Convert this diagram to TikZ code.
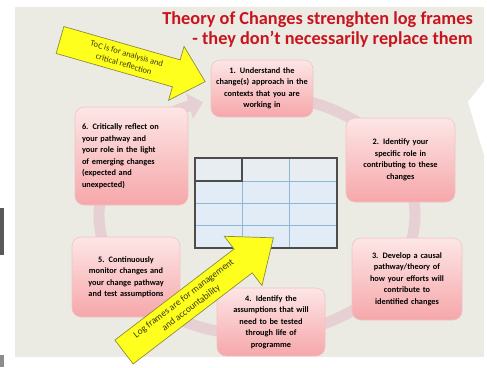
\documentclass[tikz,border=0pt]{standalone}
\usepackage{fontspec}
\setmainfont{Carlito}
\usetikzlibrary{arrows.meta}
\definecolor{slidebg}{HTML}{ECEBE3}
\definecolor{ringc}{HTML}{E6D0D3}
\definecolor{pinktop}{HTML}{FDE6E6}
\definecolor{pinkbot}{HTML}{F6A7AA}
\definecolor{pinkedge}{HTML}{EFC3C5}
\definecolor{titlered}{HTML}{C8141E}
\definecolor{yel}{HTML}{FFFF1E}
\definecolor{yeledge}{HTML}{8C8C3C}
\definecolor{yeltext}{HTML}{3A3A10}
\definecolor{tblfill}{HTML}{E2ECF6}
\definecolor{tbltopfill}{HTML}{E8EDF2}
\definecolor{tblline}{HTML}{8FB6D2}
\definecolor{tblframe}{HTML}{4C4C4C}
\tikzset{
  pbox/.style={rounded corners=9pt, top color=pinktop, bottom color=pinkbot,
    draw=pinkedge, line width=0.6pt, inner sep=2pt, text=black,
    font=\bfseries\fontsize{8.3}{11.5}\selectfont},
  ringline/.style={draw=ringc, line width=11pt},
  yarrow/.style={fill=yel, draw=yeledge, line width=0.7pt, line join=miter},
  ytext/.style={text=yeltext, align=center, transform shape, inner sep=0pt},
  tblgrid/.style={draw=tblline, line width=0.8pt},
  tblouter/.style={draw=tblframe, line width=1.2pt}
}
\begin{document}
\begin{tikzpicture}[x=1pt,y=-1pt]
\useasboundingbox (0,0) rectangle (487,367);
\fill[white] (0,0) rectangle (487,367);
\fill[slidebg] (15,7) rectangle (484,357);
\fill[white] (468,102) -- (487,78) -- (487,165) -- cycle;
\fill[black!65] (0,208) rectangle (4,255);
\fill[black!45] (0,355) rectangle (4,367);

% cycle ring
\draw[ringline, -{Triangle[width=26pt,length=14pt]}] (257,215) ++(-80:158 and 120)
  arc[start angle=-80, end angle=250, x radius=158, y radius=120];

% title
\node[anchor=north east, align=right, text=titlered,
  font=\bfseries\fontsize{18.3}{20.5}\selectfont, inner sep=0pt] (title) at (473,11)
  {Theory of Changes strenghten log frames\\- they don't necessarily replace them};

% table
\node[fill=tblfill, minimum width=142pt, minimum height=90pt, inner sep=0pt,
  anchor=north west] (tbl) at (195,158) {};
\fill[tbltopfill] (195,158) rectangle (337,181);
\draw[tblgrid] (242,158) -- (242,248) (289,158) -- (289,248)
  (195,181) -- (337,181) (195,203) -- (337,203) (195,225) -- (337,225);
\draw[tblouter] (195,181) -- (242,181) -- (242,158);
\draw[tblouter] (195,158) rectangle (337,248);

% boxes
\node[pbox, minimum width=102pt, minimum height=57pt, text width=98pt, align=center] (b1) at (262,88.5)
  {1. Understand the\\change(s) approach in the\\contexts that you are\\working in};
\node[pbox, minimum width=109pt, minimum height=84pt, text width=100pt, align=center] (b2) at (400.5,160)
  {2. Identify your\\specific role in\\contributing to these\\changes};
\node[pbox, minimum width=110pt, minimum height=82pt, text width=104pt, align=center] (b3) at (407,279)
  {3. Develop a causal\\pathway/theory of\\how your efforts will\\contribute to\\identified changes};
\node[pbox, minimum width=108pt, minimum height=68pt, text width=104pt, align=center] (b4) at (271,322)
  {4. Identify the\\assumptions that will\\need to be tested\\through life of\\programme};
\node[pbox, minimum width=108pt, minimum height=80pt, text width=104pt, align=center] (b5) at (126,277)
  {5. Continuously\\monitor changes and\\your change pathway\\and test assumptions};
\node[pbox, minimum width=113pt, minimum height=98pt, text width=99pt, align=left] (b6) at (131.5,156)
  {6. Critically reflect on\\your pathway and\\your role in the light\\of emerging changes\\(expected and\\unexpected)};

% yellow arrow 1 (ToC)
\begin{scope}[shift={(60,40)}, rotate=-16]
  \draw[yarrow] (0,-14) -- (121,-14) -- (121,-28) -- (151,0) -- (121,28)
    -- (121,14) -- (0,14) -- cycle;
  \node[ytext, font=\fontsize{8.5}{11}\selectfont] (ya) at (68,0)
    {ToC is for analysis and\\critical reflection};
\end{scope}

% yellow arrow 2 (Log frames)
\begin{scope}[shift={(124,352)}, rotate=37.4]
  \draw[yarrow] (0,-15) -- (150,-15) -- (150,-31) -- (188,0) -- (150,31)
    -- (150,15) -- (0,15) -- cycle;
  \node[ytext, font=\fontsize{9.5}{12}\selectfont] (yb) at (80,0)
    {Log frames are for management\\and accountability};
\end{scope}
\end{tikzpicture}
\end{document}
